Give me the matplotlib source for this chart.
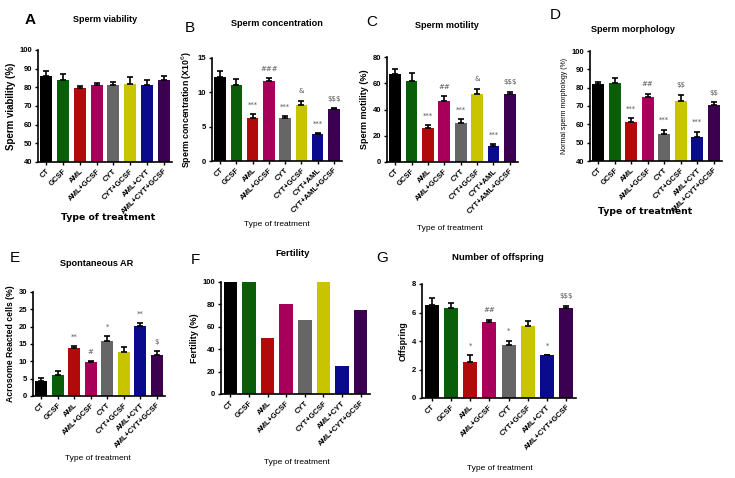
import matplotlib
matplotlib.use("Agg")
import matplotlib.pyplot as plt
import numpy as np

W, H = 735, 478

groups_a = ["CT", "GCSF", "AML", "AML+GCSF", "CYT", "CYT+GCSF", "AML+CYT", "AML+CYT+GCSF"]
groups_b = ["CT", "GCSF", "AML", "AML+GCSF", "CYT", "CYT+GCSF", "CYT+AML", "CYT+AML+GCSF"]
colors = ["#000000", "#0a5e0a", "#b00a0a", "#a8005a", "#666666", "#c9c400", "#0a0a8c", "#3c0050"]

# values
viability = [86, 84, 79.5, 81.5, 81, 82, 81, 84]
viability_err = [2.5, 3, 1, 1, 2, 3.5, 3, 2]
concentration = [12.2, 11.1, 6.2, 11.6, 6.2, 8.2, 3.9, 7.5]
concentration_err = [0.9, 0.9, 0.6, 0.5, 0.3, 0.6, 0.2, 0.2]
concentration_sig = ["", "", "***", "###", "***", "&", "***", "$$$"]
motility = [67, 61.5, 26, 46.5, 29.5, 51.5, 12.5, 51.5]
motility_err = [4, 6, 2.5, 3.5, 3.5, 4.5, 1.5, 2]
motility_sig = ["", "", "***", "##", "***", "&", "***", "$$$"]
morphology = [82, 82.5, 61.5, 75, 55, 73, 53, 70.5]
morphology_err = [1, 3, 2, 1.5, 2, 3, 3, 1.5]
morphology_sig = ["", "", "***", "##", "***", "$$", "***", "$$"]
acrosome = [4.2, 6.2, 13.8, 9.7, 15.8, 12.8, 20.2, 11.7]
acrosome_err = [1, 0.9, 0.7, 0.4, 1.6, 1.3, 1, 1.3]
acrosome_sig = ["", "", "**", "#", "*", "", "**", "$"]
fertility = [100, 100, 50, 80, 66, 100, 25, 75]
offspring = [6.5, 6.35, 2.5, 5.3, 3.7, 5.05, 3.0, 6.3]
offspring_err = [0.5, 0.3, 0.5, 0.2, 0.3, 0.35, 0, 0.15]
offspring_sig = ["", "", "*", "##", "*", "", "*", "$$$"]

BOLD = ["Liberation Sans", "DejaVu Sans"]

fig = plt.figure(figsize=(W / 100, H / 100), dpi=100)


def box(l, r, t, b):
    return [l / W, 1 - b / H, (r - l) / W, (b - t) / H]


def put(x, y, s, **kw):
    fig.text(x / W, 1 - y / H, s, ha="center", va="center", **kw)


def panel(rect, labels, vals, err, sig, ylim, yticks, ylabel, ylsize=6.5, ylweight="bold"):
    ax = fig.add_axes(box(*rect))
    x = np.arange(len(vals))
    ax.bar(x, vals, width=0.72, color=colors, zorder=2)
    if err is not None:
        lo = np.zeros(len(err))
        ax.errorbar(x, vals, yerr=[lo, err], fmt="none", ecolor="black",
                    elinewidth=1.2, capsize=2.5, capthick=1.2, zorder=3)
        span = ylim[1] - ylim[0]
        for xi, v, e, s in zip(x, vals, err, sig):
            if s:
                ax.text(xi, v + e + span * 0.06, s, ha="center", va="bottom",
                        fontsize=5, color="#555555", parse_math=False)
    ax.set_xlim(-0.5, len(vals) - 0.5)
    ax.set_ylim(*ylim)
    ax.set_yticks(yticks)
    ax.set_xticks(x)
    ax.set_xticklabels(labels, rotation=45, ha="right", rotation_mode="anchor",
                       fontsize=5.5, fontweight="bold", family=BOLD)
    for t in ax.get_yticklabels():
        t.set_fontsize(5.5)
        t.set_fontweight("bold")
        t.set_family(BOLD)
    ax.set_ylabel(ylabel, fontsize=ylsize, fontweight=ylweight, family=BOLD, labelpad=3)
    for side in ["top", "right"]:
        ax.spines[side].set_visible(False)
    for side in ["left", "bottom"]:
        ax.spines[side].set_linewidth(1.2)
    ax.tick_params(width=1.0, length=2.5, pad=1.5)
    return ax


# A
panel((38, 172, 50, 162), groups_a, viability, viability_err, [""] * 8,
      (40, 100), range(40, 101, 10), "Sperm viability (%)", ylsize=7)
put(30, 20, "A", fontsize=11, fontweight="bold", family=BOLD)
put(105, 20, "Sperm viability", fontsize=6.5, fontweight="bold", family=BOLD)
put(108, 217, "Type of treatment", fontsize=6.7, fontweight="bold", family="DejaVu Sans")

# B
panel((212, 342, 58, 161), groups_b, concentration, concentration_err, concentration_sig,
      (0, 15), [0, 5, 10, 15], "Sperm concentration (X10$^6$)", ylsize=6.3)
put(190, 28, "B", fontsize=11, family=BOLD)
put(277, 24, "Sperm concentration", fontsize=6.6, fontweight="bold", family=BOLD)
put(277, 225, "Type of treatment", fontsize=6.0, family=BOLD)

# C
panel((387, 518, 57, 162), groups_b, motility, motility_err, motility_sig,
      (0, 80), range(0, 81, 20), "Sperm motility (%)", ylsize=6.5)
put(372, 22, "C", fontsize=11, family=BOLD)
put(447, 26, "Sperm motility", fontsize=6.6, fontweight="bold", family=BOLD)
put(450, 229, "Type of treatment", fontsize=6.0, family=BOLD)

# D
panel((590, 722, 51, 161), groups_a, morphology, morphology_err, morphology_sig,
      (40, 100), range(40, 101, 10), "Normal sperm morphology (%)", ylsize=5, ylweight="normal")
put(555, 15, "D", fontsize=11, family=BOLD)
put(633, 30, "Sperm morphology", fontsize=6.6, fontweight="bold", family=BOLD)
put(645, 212, "Type of treatment", fontsize=6.7, fontweight="bold", family="DejaVu Sans")

# E
panel((33, 165, 292, 396), groups_a, acrosome, acrosome_err, acrosome_sig,
      (0, 30), range(0, 31, 5), "Acrosome Reacted cells (%)", ylsize=6.2)
put(15, 258, "E", fontsize=11, family=BOLD)
put(97, 264, "Spontaneous AR", fontsize=6.6, fontweight="bold", family=BOLD)
put(98, 459, "Type of treatment", fontsize=6.0, family=BOLD)

# F
panel((221, 370, 282, 394), groups_a, fertility, None, None,
      (0, 100), range(0, 101, 20), "Fertility (%)", ylsize=6.5)
put(195, 260, "F", fontsize=11, family=BOLD)
put(293, 253, "Fertility", fontsize=6.8, fontweight="bold", family=BOLD)
put(297, 463, "Type of treatment", fontsize=6.0, family=BOLD)

# G
panel((422, 576, 284, 398), groups_a, offspring, offspring_err, offspring_sig,
      (0, 8), range(0, 9, 2), "Offspring", ylsize=6.3)
put(382, 258, "G", fontsize=11, family=BOLD)
put(498, 258, "Number of offspring", fontsize=6.8, fontweight="bold", family=BOLD)
put(500, 468, "Type of treatment", fontsize=6.0, family=BOLD)

fig.savefig("out.png", dpi=100)
